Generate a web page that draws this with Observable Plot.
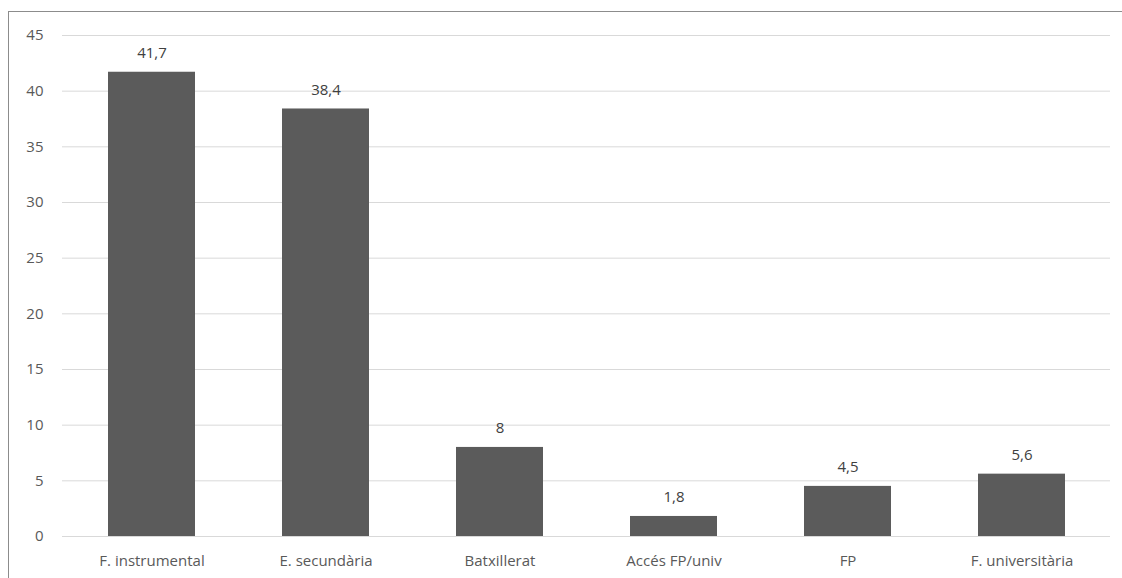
<!DOCTYPE html>
<html><head><meta charset="utf-8">
<script src="https://cdn.jsdelivr.net/npm/d3@7"></script>
<script src="https://cdn.jsdelivr.net/npm/@observablehq/plot@0.6"></script>
<style>
body{margin:0;background:#fff;}
#wrap{position:relative;width:1122px;height:578px;overflow:hidden;}
#frame{position:absolute;left:8px;top:11px;width:1200px;height:700px;border-left:1px solid #8c8c8c;border-top:1px solid #8c8c8c;}
#chart{position:absolute;left:0;top:0;}
</style></head>
<body><div id="wrap"><div id="frame"></div><div id="chart"></div></div>
<script>
const categories = ["F. instrumental","E. secundària","Batxillerat","Accés FP/univ","FP","F. universitària"];
const values = [41.7, 38.4, 8, 1.8, 4.5, 5.6];
const yTicks = [0,5,10,15,20,25,30,35,40,45];
const data = categories.map((c,i)=>({cat:c, v:values[i]}));
const fmt = v => String(v).replace(".", ",");
const chart = Plot.plot({
  width:1122, height:578,
  marginLeft:62, marginRight:12, marginTop:35, marginBottom:42,
  style:{fontFamily:"'Open Sans', sans-serif", fontSize:"15px", color:"#595959", background:"transparent"},
  x:{domain:categories, paddingInner:0.5, paddingOuter:0.25, label:null},
  y:{domain:[0,45], label:null},
  marks:[
    Plot.gridY(yTicks,{stroke:"#d9d9d9", strokeOpacity:1, strokeWidth:1}),
    Plot.barY(data,{x:"cat", y:"v", fill:"#5b5b5b"}),
    Plot.axisX({tickSize:0, tickPadding:19, fontSize:15, fill:"#595959"}),
    Plot.axisY(yTicks,{tickSize:0, tickPadding:19, fontSize:15, fill:"#595959"}),
    Plot.text(data,{x:"cat", y:"v", text:d=>fmt(d.v), dy:-19, fill:"#404040", fontSize:15, lineAnchor:"middle"})
  ]
});
document.getElementById("chart").appendChild(chart);
</script></body></html>
